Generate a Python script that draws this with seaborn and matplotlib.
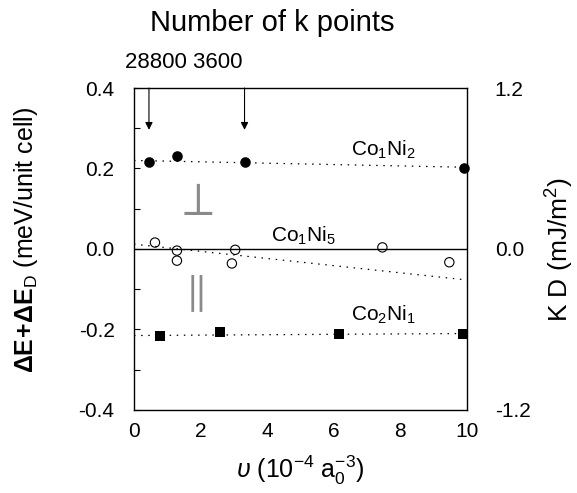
import numpy as np
import pandas as pd
import matplotlib
matplotlib.use("Agg")
import matplotlib.pyplot as plt
import seaborn as sns

# ---- data ----
x_co1ni2 = [0.45, 1.30, 3.32, 9.92]
y_co1ni2 = [0.216, 0.231, 0.216, 0.200]
x_co1ni5 = [0.63, 1.29, 1.29, 2.94, 3.04, 7.46, 9.47]
y_co1ni5 = [0.016, -0.004, -0.029, -0.036, -0.002, 0.004, -0.033]
x_co2ni1 = [0.78, 2.59, 6.15, 9.87]
y_co2ni1 = [-0.216, -0.207, -0.212, -0.212]
fit_x = [0.0, 10.0]
fit_co1ni2 = [0.220, 0.203]
fit_co1ni5 = [0.012, -0.077]
fit_co2ni1 = [-0.215, -0.210]
zero_y = [0.0, 0.0]
arrow_x = [0.45, 3.32]
kpoint_labels = ["28800", "3600"]
x_ticks = [0, 2, 4, 6, 8, 10]
y_ticks = [-0.4, -0.2, 0.0, 0.2, 0.4]
right_ticks = [-1.2, 0.0, 1.2]

sns.set_style("white")
plt.rcParams['font.family'] = ['Liberation Sans', 'DejaVu Sans']
plt.rcParams['mathtext.fontset'] = 'custom'
plt.rcParams['mathtext.rm'] = 'Liberation Sans'
plt.rcParams['mathtext.it'] = 'Liberation Sans:italic'
plt.rcParams['mathtext.bf'] = 'Liberation Sans:bold'
plt.rcParams['axes.unicode_minus'] = False
for k in ['text.color', 'axes.labelcolor', 'xtick.color', 'ytick.color', 'axes.edgecolor']:
    plt.rcParams[k] = 'black'

fig = plt.figure(figsize=(5.77, 4.93), dpi=100)
ax = fig.add_axes([0.2322, 0.1684, 0.5771, 0.6531])

dots = (0, (1.2, 4.5))
for fy in [fit_co1ni2, fit_co1ni5, fit_co2ni1]:
    sns.lineplot(x=fit_x, y=fy, ax=ax, color='black', lw=0.9, linestyle=dots)
sns.lineplot(x=fit_x, y=zero_y, ax=ax, color='black', lw=1.0)

sns.scatterplot(x=x_co1ni2, y=y_co1ni2, ax=ax, marker='o', s=58, color='black',
                linewidth=0, zorder=5, clip_on=False)
sns.scatterplot(x=x_co1ni5, y=y_co1ni5, ax=ax, marker='o', s=45, facecolor='none',
                edgecolor='black', linewidth=0.8, zorder=5)
sns.scatterplot(x=x_co2ni1, y=y_co2ni1, ax=ax, marker='s', s=52, color='black',
                linewidth=0, zorder=5, clip_on=False)

for xa in arrow_x:
    ax.annotate("", xy=(xa, 0.296), xytext=(xa, 0.4),
                arrowprops=dict(arrowstyle='-|>', lw=0.8, color='black',
                                mutation_scale=11, shrinkA=0, shrinkB=0))

ax.text(7.48, 0.246, r"Co$_1$Ni$_2$", fontsize=15, ha='center', va='center')
ax.text(5.1, 0.032, r"Co$_1$Ni$_5$", fontsize=15, ha='center', va='center')
ax.text(7.5, -0.163, r"Co$_2$Ni$_1$", fontsize=15, ha='center', va='center')

ax.text(1.79, 0.114, r"$\perp$", fontsize=34, ha='center', va='center',
        color='#8a8a8a', math_fontfamily='cm')
ax.text(1.71, -0.11, r"$\parallel$", fontsize=30, ha='center', va='center',
        color='#8a8a8a', math_fontfamily='cm')

ax.set_xlim(0, 10)
ax.set_ylim(-0.4, 0.4)
ax.set_xticks(x_ticks)
ax.set_xticks([1, 3, 5, 7, 9], minor=True)
ax.set_yticks(y_ticks)
ax.set_yticks(np.round(np.arange(-0.3, 0.35, 0.1), 1), minor=True)
ax.set_yticklabels([f"{v:.1f}" for v in y_ticks])
ax.set_xticklabels([str(v) for v in x_ticks])
ax.tick_params(axis='x', which='major', direction='in', length=8, width=0.8,
               labelsize=15, pad=9, top=False)
ax.tick_params(axis='x', which='minor', direction='in', length=5, width=0.8, top=False)
ax.tick_params(axis='y', which='both', direction='in', length=4, width=0.8,
               labelsize=15, pad=14, right=False)
for sp in ax.spines.values():
    sp.set_linewidth(1.0)
    sp.set_color('black')
ax.set_xlabel("")
ax.set_ylabel("")

ax2 = ax.twinx()
ax2.set_ylim(-1.2, 1.2)
ax2.set_yticks(right_ticks)
ax2.set_yticklabels([f"{v:.1f}" for v in right_ticks])
ax2.tick_params(axis='y', length=0, labelsize=15, pad=20)
for sp in ax2.spines.values():
    sp.set_visible(False)

fig.text(0.471, 0.953, "Number of k points", fontsize=21, ha='center', va='center')
fig.text(0.318, 0.874, " ".join(kpoint_labels), fontsize=16, ha='center', va='center')
fig.text(0.52, 0.030, r"$\upsilon$ (10$^{-4}$ a$_0^{-3}$)", fontsize=18,
         ha='center', va='baseline')
fig.text(0.045, 0.513, r"$\mathbf{\Delta E\!+\!\Delta E}_\mathrm{D}$ (meV/unit cell)",
         fontsize=18, rotation=90, ha='center', va='center')
fig.text(0.970, 0.493, r"K D (mJ/m$^2$)", fontsize=19, rotation=90,
         ha='center', va='center')

fig.savefig("out.png", dpi=100)
